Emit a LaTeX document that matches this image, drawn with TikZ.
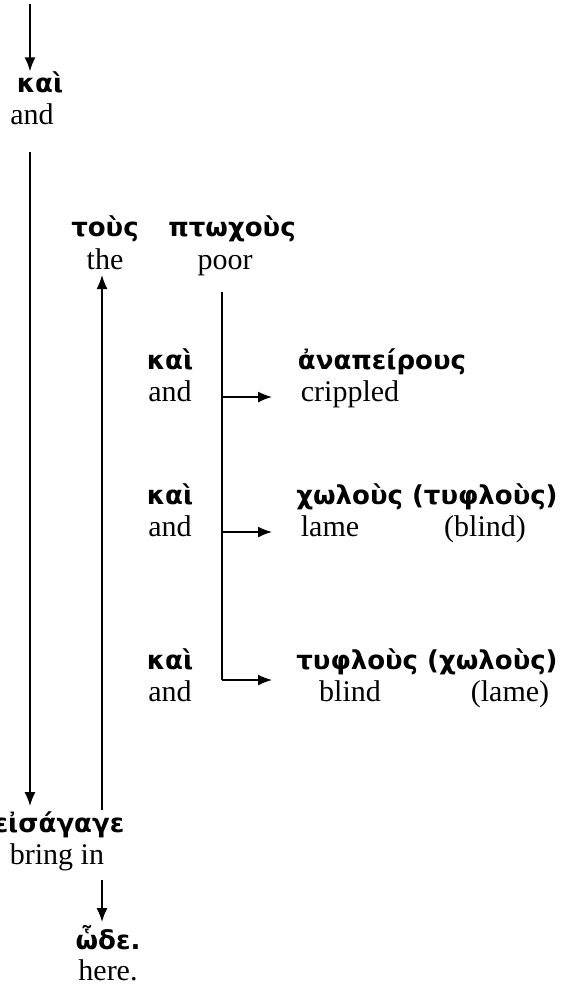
\documentclass[tikz,border=0pt]{standalone}
\usepackage{fontspec}
\setmainfont{Liberation Serif}
\newfontfamily\grk{DejaVu Sans}
\usetikzlibrary{arrows.meta}
\begin{document}
\begin{tikzpicture}[x=1pt,y=-1pt,
  gk/.style={font=\grk\bfseries\fontsize{26}{30}\selectfont, inner sep=0pt, anchor=mid},
  en/.style={font=\fontsize{30}{35}\selectfont, inner sep=0pt, anchor=mid},
  link/.style={line width=1.5pt},
  arr/.style={line width=1.5pt, -{Latex[length=14pt,width=11pt]}}]
\useasboundingbox (0,0) rectangle (564,988);

% main clause column
\coordinate (t0) at (30,4);
\node[gk] (kai0) at (40,90) {καὶ};
\node[en] (and0) at (32,122) {and};
\coordinate (m0) at (30,152);
\coordinate (m1) at (30,806);
\draw[arr] (t0) -- (kai0.north -| t0);

% object phrase
\node[gk] (tous) at (105,234) {τοὺς};
\node[en] (the) at (105,267) {the};
\node[gk] (ptoch) at (232,234) {πτωχοὺς};
\node[en] (poor) at (225,267) {poor};

% coordinated objects
\node[gk] (kai1) at (170,367) {καὶ};
\node[en] (and1) at (170,399) {and};
\node[gk] (anap) at (382,367) {ἀναπείρους};
\node[en] (cripp) at (350,399) {crippled};

\node[gk] (kai2) at (170,502) {καὶ};
\node[en] (and2) at (170,534) {and};
\node[gk] (chol) at (427,502) {χωλοὺς (τυφλοὺς)};
\node[en] (lame) at (330,534) {lame};
\node[en] (blind) at (485,534) {(blind)};

\node[gk] (kai3) at (170,667) {καὶ};
\node[en] (and3) at (170,699) {and};
\node[gk] (tyfl) at (427,667) {τυφλοὺς (χωλοὺς)};
\node[en] (blind2) at (350,699) {blind};
\node[en] (lame2) at (510,699) {(lame)};

% verb and adverb
\node[gk] (eisag) at (59,830) {εἰσάγαγε};
\node[en] (bring) at (57,862) {bring in};
\node[gk] (ode) at (108,947) {ὧδε.};
\node[en] (here) at (108,978) {here.};

% connectors
\draw[arr] (m0) -- (m1);
\coordinate (u0) at (102,810);
\coordinate (u1) at (102,275);
\draw[arr] (u0) -- (u1);

\coordinate (p0) at (222,292);
\coordinate (p1) at (222,680);
\coordinate (b1) at (272,397);
\coordinate (b2) at (272,532);
\coordinate (b3) at (272,680);
\draw[link] (p0) -- (p1);
\draw[arr] (p1) -- (b3);
\draw[arr] (b1 -| p0) -- (b1);
\draw[arr] (b2 -| p0) -- (b2);

\coordinate (d0) at (102,880);
\coordinate (d1) at (102,922);
\draw[arr] (d0) -- (d1);
\end{tikzpicture}
\end{document}
